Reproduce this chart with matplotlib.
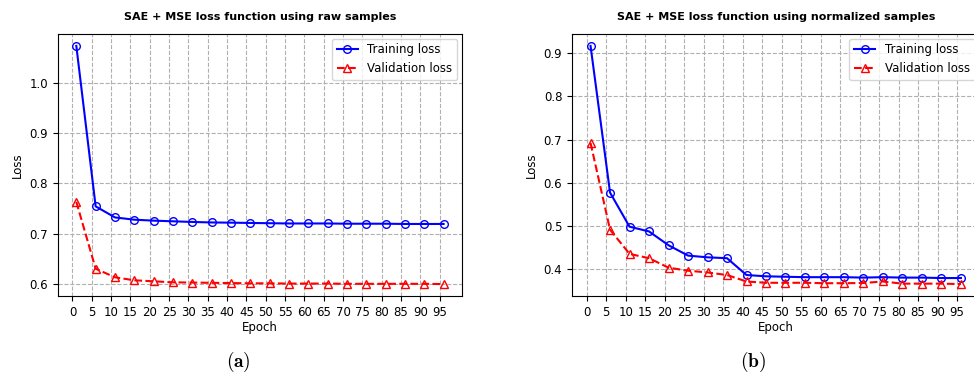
import numpy as np
import matplotlib
matplotlib.use("Agg")
import matplotlib.pyplot as plt

# epochs (every 5th, starting at 1)
epochs = list(range(1, 100, 5))

# (a) raw samples
train_raw = [1.073, 0.754, 0.732, 0.7275, 0.7256, 0.7243, 0.723, 0.722, 0.7216, 0.721,
             0.7205, 0.720, 0.720, 0.720, 0.7195, 0.7195, 0.7195, 0.719, 0.719, 0.719]
val_raw = [0.763, 0.630, 0.613, 0.607, 0.605, 0.603, 0.6025, 0.602, 0.6015, 0.601,
           0.601, 0.6005, 0.6005, 0.6005, 0.600, 0.600, 0.600, 0.600, 0.600, 0.5995]

# (b) normalized samples
train_norm = [0.917, 0.577, 0.498, 0.487, 0.455, 0.431, 0.427, 0.425, 0.386, 0.383,
              0.382, 0.381, 0.381, 0.381, 0.380, 0.381, 0.380, 0.380, 0.379, 0.379]
val_norm = [0.692, 0.491, 0.435, 0.425, 0.403, 0.396, 0.392, 0.386, 0.371, 0.368,
            0.368, 0.368, 0.367, 0.367, 0.3675, 0.371, 0.366, 0.366, 0.366, 0.365]

titles = ["SAE + MSE loss function using raw samples",
          "SAE + MSE loss function using normalized samples"]
panel_tags = [r"$(\mathbf{a})$", r"$(\mathbf{b})$"]
xticks = list(range(0, 100, 5))

plt.rcParams['mathtext.fontset'] = 'cm'

fig = plt.figure(figsize=(9.74, 3.76), dpi=100)
ax1 = fig.add_axes([0.0595, 0.2128, 0.4148, 0.6968])
ax2 = fig.add_axes([0.5873, 0.2128, 0.4183, 0.6968])

for ax, tr, va, ttl in zip([ax1, ax2], [train_raw, train_norm], [val_raw, val_norm], titles):
    ax.plot(epochs, tr, color='blue', marker='o', mfc='none', ms=5.5, lw=1.5, label='Training loss')
    ax.plot(epochs, va, color='red', ls='--', marker='^', mfc='none', ms=5.5, lw=1.5, label='Validation loss')
    ax.set_xticks(xticks)
    ax.tick_params(labelsize=8.5)
    ax.grid(True, ls='--', color='#b0b0b0', lw=0.8)
    ax.set_xlabel('Epoch', fontsize=8.5, labelpad=2)
    ax.set_ylabel('Loss', fontsize=8.5)
    ax.set_title(ttl, fontsize=8, fontweight='bold', pad=10)
    ax.legend(loc='upper right', fontsize=8.5, handlelength=1.8, borderaxespad=0.4)

fig.text(0.245, 0.037, panel_tags[0], fontsize=14, ha='center', va='center')
fig.text(0.773, 0.037, panel_tags[1], fontsize=14, ha='center', va='center')

fig.savefig('out.png', dpi=100)
